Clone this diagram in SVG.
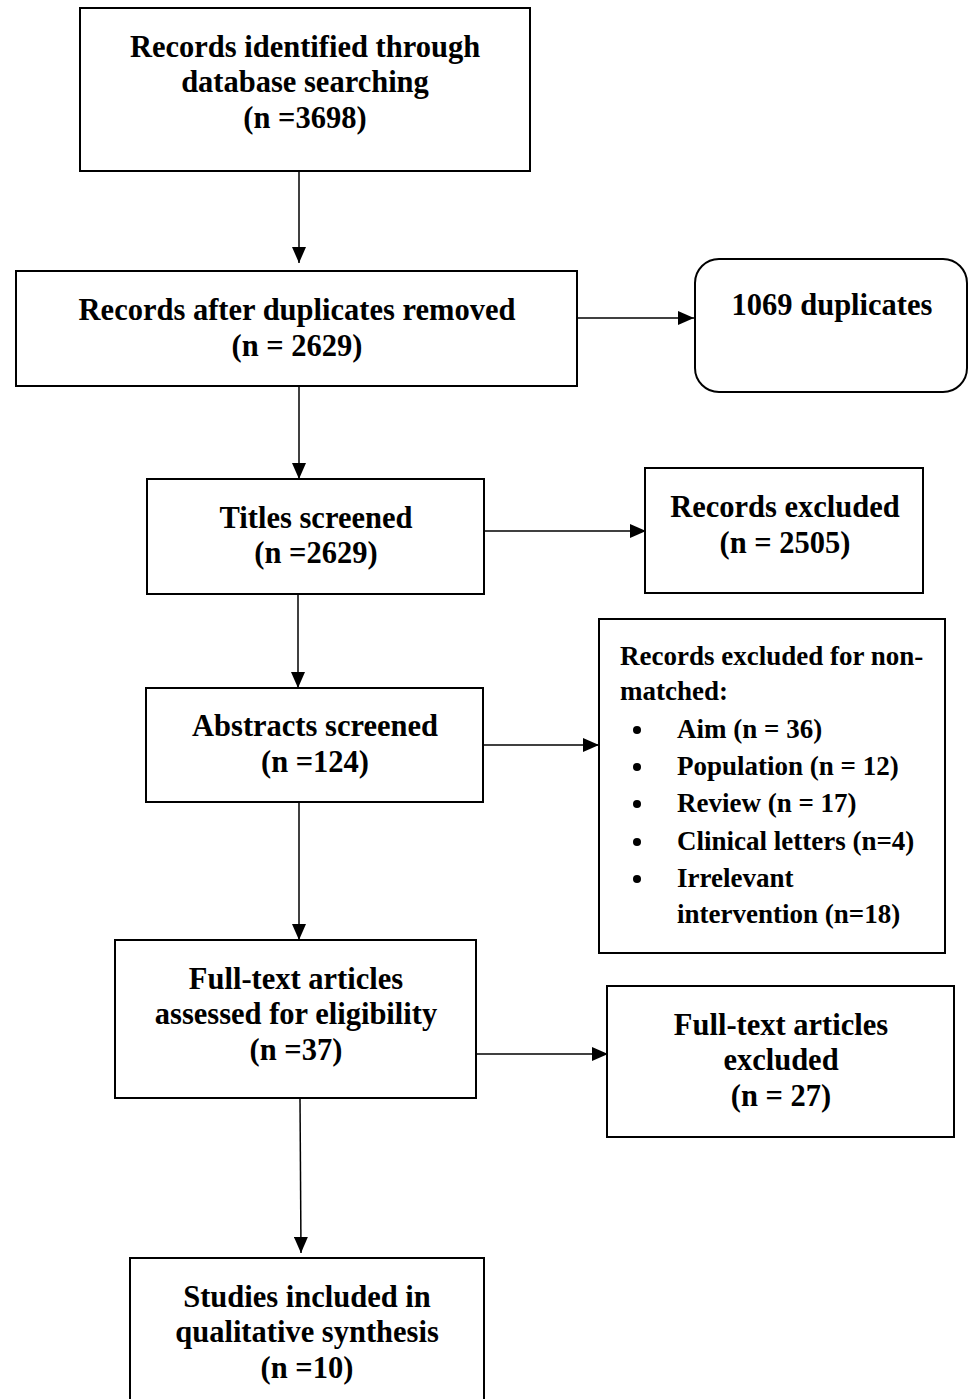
<svg xmlns="http://www.w3.org/2000/svg" width="968" height="1399" viewBox="0 0 968 1399">
<style>
.box{fill:#fff;stroke:#000;stroke-width:2}
.t{font-family:"Liberation Serif","Times New Roman",serif;font-weight:bold;font-size:30.5px;fill:#000;text-anchor:middle}
.l{font-family:"Liberation Serif","Times New Roman",serif;font-weight:bold;font-size:27px;fill:#000}
.c{stroke:#000;stroke-width:1.5;fill:none;marker-end:url(#ah)}
</style>
<defs>
<marker id="ah" markerUnits="userSpaceOnUse" markerWidth="16" markerHeight="14" refX="16" refY="7" orient="auto">
<path d="M0,0 L16,7 L0,14 Z" fill="#000"/>
</marker>
</defs>
<rect width="968" height="1399" fill="#fff"/>
<g id="connectors">
<line class="c" x1="299" y1="171" x2="299" y2="263"/>
<line class="c" x1="577" y1="318" x2="694" y2="318"/>
<line class="c" x1="299" y1="386" x2="299" y2="479"/>
<line class="c" x1="484" y1="531" x2="646" y2="531"/>
<line class="c" x1="298" y1="594" x2="298" y2="688"/>
<line class="c" x1="483" y1="745" x2="599" y2="745"/>
<line class="c" x1="299" y1="802" x2="299" y2="940"/>
<line class="c" x1="476" y1="1054" x2="608" y2="1054"/>
<line class="c" x1="300" y1="1098" x2="301" y2="1253"/>
</g>
<g id="n1">
<rect class="box" x="80" y="8" width="450" height="163"/>
<text class="t" x="305" y="57">Records identified through</text>
<text class="t" x="305" y="92">database searching</text>
<text class="t" x="305" y="128">(n =3698)</text>
</g>
<g id="n2">
<rect class="box" x="16" y="271" width="561" height="115"/>
<text class="t" x="297" y="320">Records after duplicates removed</text>
<text class="t" x="297" y="356">(n = 2629)</text>
</g>
<g id="n3">
<rect class="box" x="695" y="259" width="272" height="133" rx="24"/>
<text class="t" x="832" y="315">1069 duplicates</text>
</g>
<g id="n4">
<rect class="box" x="147" y="479" width="337" height="115"/>
<text class="t" x="316" y="528">Titles screened</text>
<text class="t" x="316" y="563">(n =2629)</text>
</g>
<g id="n5">
<rect class="box" x="645" y="468" width="278" height="125"/>
<text class="t" x="785" y="517">Records excluded</text>
<text class="t" x="785" y="553">(n = 2505)</text>
</g>
<g id="n6">
<rect class="box" x="146" y="688" width="337" height="114"/>
<text class="t" x="315" y="736">Abstracts screened</text>
<text class="t" x="315" y="772">(n =124)</text>
</g>
<g id="n7">
<rect class="box" x="599" y="619" width="346" height="334"/>
<text class="l" x="620" y="665">Records excluded for non-</text>
<text class="l" x="620" y="700">matched:</text>
<g fill="#000">
<circle cx="637" cy="730" r="4"/>
<circle cx="637" cy="767" r="4"/>
<circle cx="637" cy="804" r="4"/>
<circle cx="637" cy="842" r="4"/>
<circle cx="637" cy="879" r="4"/>
</g>
<text class="l" x="677" y="738">Aim (n = 36)</text>
<text class="l" x="677" y="775">Population (n = 12)</text>
<text class="l" x="677" y="812">Review (n = 17)</text>
<text class="l" x="677" y="850">Clinical letters (n=4)</text>
<text class="l" x="677" y="887">Irrelevant</text>
<text class="l" x="677" y="923">intervention (n=18)</text>
</g>
<g id="n8">
<rect class="box" x="115" y="940" width="361" height="158"/>
<text class="t" x="296" y="989">Full-text articles</text>
<text class="t" x="296" y="1024">assessed for eligibility</text>
<text class="t" x="296" y="1060">(n =37)</text>
</g>
<g id="n9">
<rect class="box" x="607" y="986" width="347" height="151"/>
<text class="t" x="781" y="1035">Full-text articles</text>
<text class="t" x="781" y="1070">excluded</text>
<text class="t" x="781" y="1106">(n = 27)</text>
</g>
<g id="n10">
<rect class="box" x="130" y="1258" width="354" height="150"/>
<text class="t" x="307" y="1307">Studies included in</text>
<text class="t" x="307" y="1342">qualitative synthesis</text>
<text class="t" x="307" y="1378">(n =10)</text>
</g>
</svg>
